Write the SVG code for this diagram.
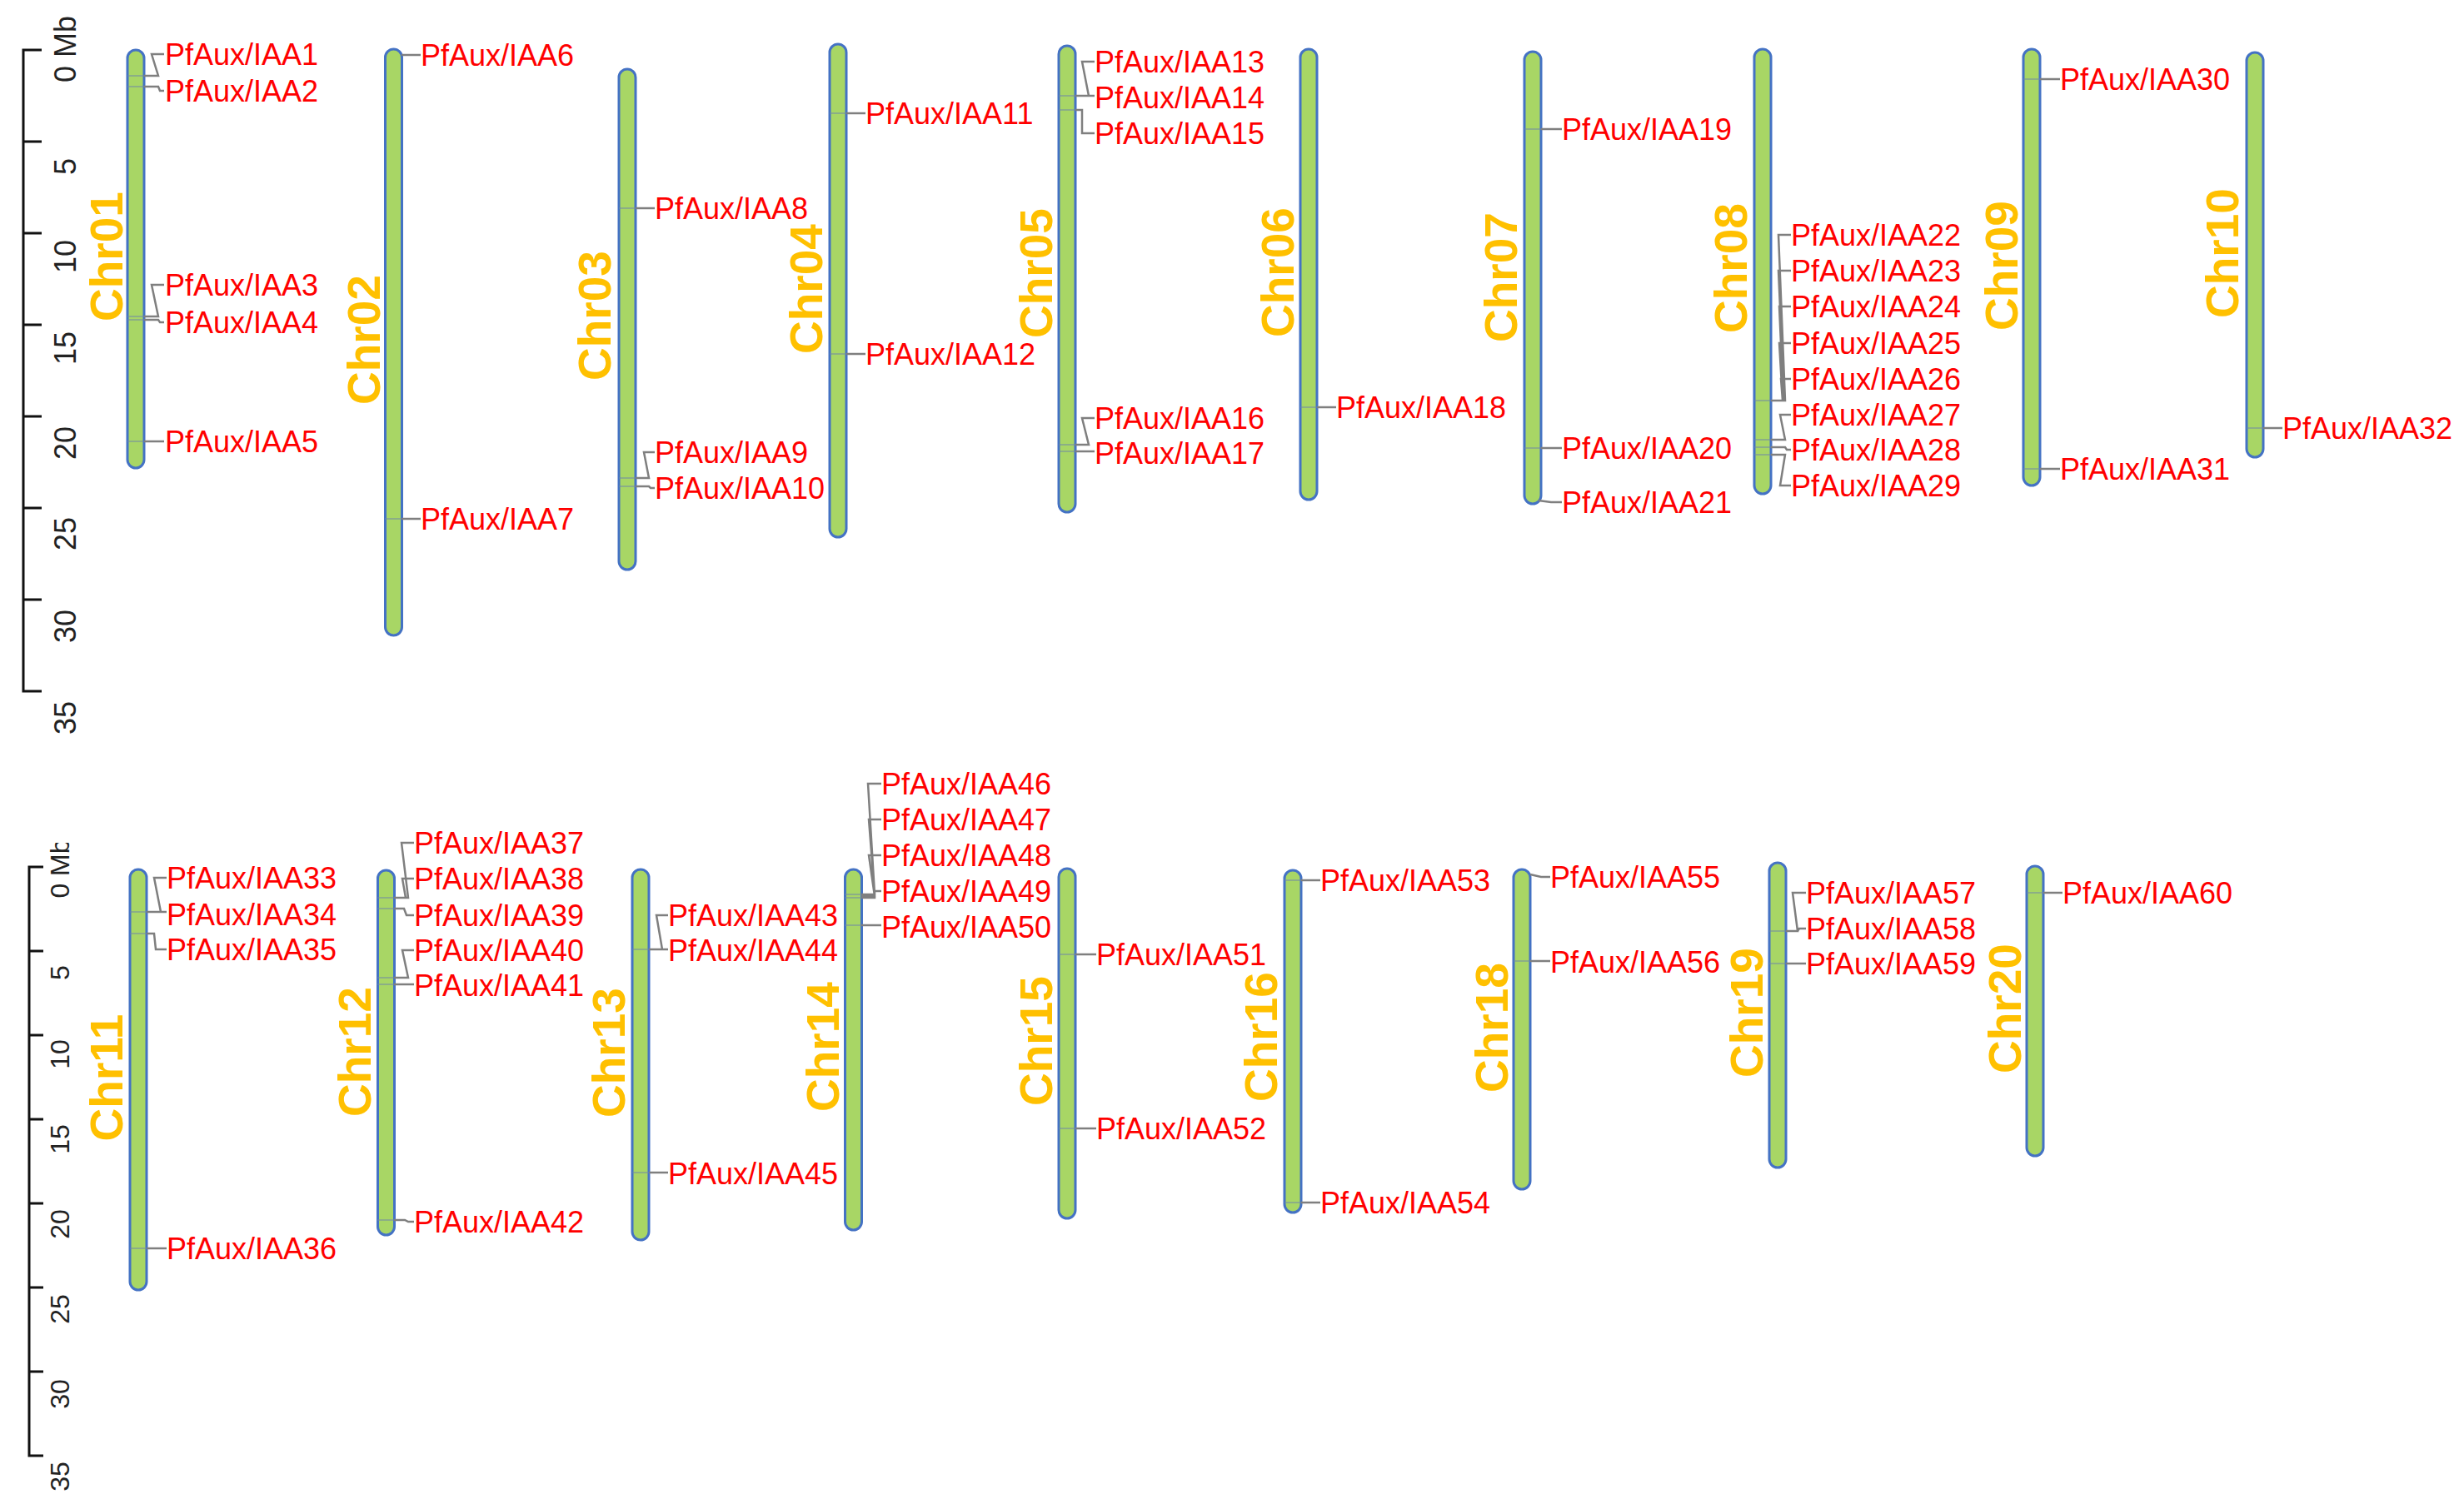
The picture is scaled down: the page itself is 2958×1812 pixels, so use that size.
<svg xmlns="http://www.w3.org/2000/svg" width="2958" height="1812" viewBox="0 0 2958 1812">
<style>
.chr{fill:#a8d665;stroke:#4472c4;stroke-width:3}
.cl{font-family:"Liberation Sans",Arial,sans-serif;font-weight:bold;font-size:55px;fill:#ffc000;text-anchor:middle}
.g{font-family:"Liberation Sans",Arial,sans-serif;font-size:36px;fill:#ff0000}
.sc{font-family:"Liberation Sans",Arial,sans-serif;font-size:36px;fill:#222;text-anchor:middle}
.sc2{font-family:"Liberation Sans",Arial,sans-serif;font-size:32px;fill:#222;text-anchor:middle}
.ax{fill:none;stroke:#111;stroke-width:3}
.cn{fill:none;stroke:#7f7f7f;stroke-width:2.5}
.cr{fill:none;stroke:#6f86a8;stroke-width:1.2}
</style>
<defs>
<clipPath id="clipb"><rect x="0" y="1012" width="200" height="800"/></clipPath>
</defs>
<rect width="2958" height="1812" fill="#ffffff"/>

<g id="scale-top">
<path class="ax" d="M50,60 H28 V830 H50 M28,170 H50 M28,280 H50 M28,390 H50 M28,500 H50 M28,610 H50 M28,720 H50"/>
<text class="sc" transform="translate(91,59) rotate(-90)">0 Mb</text>
<text class="sc" transform="translate(91,200) rotate(-90)">5</text>
<text class="sc" transform="translate(91,308) rotate(-90)">10</text>
<text class="sc" transform="translate(91,418) rotate(-90)">15</text>
<text class="sc" transform="translate(91,532) rotate(-90)">20</text>
<text class="sc" transform="translate(91,641) rotate(-90)">25</text>
<text class="sc" transform="translate(91,752) rotate(-90)">30</text>
<text class="sc" transform="translate(91,862) rotate(-90)">35</text>
</g>

<g id="scale-bottom">
<path class="ax" d="M52,1041 H35 V1748 H52 M35,1142 H52 M35,1243 H52 M35,1344 H52 M35,1445 H52 M35,1546 H52 M35,1647 H52"/>
<g clip-path="url(#clipb)"><text class="sc2" transform="translate(83,1043) rotate(-90)">0 Mb</text></g>
<text class="sc2" transform="translate(83,1168) rotate(-90)">5</text>
<text class="sc2" transform="translate(83,1266) rotate(-90)">10</text>
<text class="sc2" transform="translate(83,1368) rotate(-90)">15</text>
<text class="sc2" transform="translate(83,1470) rotate(-90)">20</text>
<text class="sc2" transform="translate(83,1572) rotate(-90)">25</text>
<text class="sc2" transform="translate(83,1674) rotate(-90)">30</text>
<text class="sc2" transform="translate(83,1773) rotate(-90)">35</text>
</g>

<g id="chr01">
<rect class="chr" x="153" y="60" width="20" height="502" rx="10"/>
<text class="cl" transform="translate(147,308) rotate(-90)">Chr01</text>
<text class="g" x="198" y="78">PfAux/IAA1</text>
<text class="g" x="198" y="122">PfAux/IAA2</text>
<text class="g" x="198" y="355">PfAux/IAA3</text>
<text class="g" x="198" y="400">PfAux/IAA4</text>
<text class="g" x="198" y="543">PfAux/IAA5</text>
</g>
<g id="chr02">
<rect class="chr" x="462.5" y="59" width="20" height="704" rx="10"/>
<text class="cl" transform="translate(456,408) rotate(-90)">Chr02</text>
<text class="g" x="505" y="79">PfAux/IAA6</text>
<text class="g" x="505" y="636">PfAux/IAA7</text>
</g>
<g id="chr03">
<rect class="chr" x="743" y="83" width="20" height="601" rx="10"/>
<text class="cl" transform="translate(733,379) rotate(-90)">Chr03</text>
<text class="g" x="786" y="263">PfAux/IAA8</text>
<text class="g" x="786" y="556">PfAux/IAA9</text>
<text class="g" x="786" y="599">PfAux/IAA10</text>
</g>
<g id="chr04">
<rect class="chr" x="996" y="53" width="20" height="592" rx="10"/>
<text class="cl" transform="translate(987,347) rotate(-90)">Chr04</text>
<text class="g" x="1039" y="149">PfAux/IAA11</text>
<text class="g" x="1039" y="438">PfAux/IAA12</text>
</g>
<g id="chr05">
<rect class="chr" x="1271" y="55" width="20" height="560" rx="10"/>
<text class="cl" transform="translate(1263,328) rotate(-90)">Chr05</text>
<text class="g" x="1314" y="87">PfAux/IAA13</text>
<text class="g" x="1314" y="130">PfAux/IAA14</text>
<text class="g" x="1314" y="173">PfAux/IAA15</text>
<text class="g" x="1314" y="515">PfAux/IAA16</text>
<text class="g" x="1314" y="557">PfAux/IAA17</text>
</g>
<g id="chr06">
<rect class="chr" x="1561" y="59" width="20" height="541" rx="10"/>
<text class="cl" transform="translate(1553,327) rotate(-90)">Chr06</text>
<text class="g" x="1604" y="502">PfAux/IAA18</text>
</g>
<g id="chr07">
<rect class="chr" x="1830" y="62" width="20" height="543" rx="10"/>
<text class="cl" transform="translate(1821,333) rotate(-90)">Chr07</text>
<text class="g" x="1875" y="168">PfAux/IAA19</text>
<text class="g" x="1875" y="551">PfAux/IAA20</text>
<text class="g" x="1875" y="616">PfAux/IAA21</text>
</g>
<g id="chr08">
<rect class="chr" x="2106" y="59" width="20" height="534" rx="10"/>
<text class="cl" transform="translate(2097,322) rotate(-90)">Chr08</text>
<text class="g" x="2150" y="295">PfAux/IAA22</text>
<text class="g" x="2150" y="338">PfAux/IAA23</text>
<text class="g" x="2150" y="381">PfAux/IAA24</text>
<text class="g" x="2150" y="425">PfAux/IAA25</text>
<text class="g" x="2150" y="468">PfAux/IAA26</text>
<text class="g" x="2150" y="511">PfAux/IAA27</text>
<text class="g" x="2150" y="553">PfAux/IAA28</text>
<text class="g" x="2150" y="596">PfAux/IAA29</text>
</g>
<g id="chr09">
<rect class="chr" x="2429" y="59" width="20" height="524" rx="10"/>
<text class="cl" transform="translate(2422,319) rotate(-90)">Chr09</text>
<text class="g" x="2473" y="108">PfAux/IAA30</text>
<text class="g" x="2473" y="576">PfAux/IAA31</text>
</g>
<g id="chr10">
<rect class="chr" x="2697" y="63" width="20" height="486" rx="10"/>
<text class="cl" transform="translate(2687,304) rotate(-90)">Chr10</text>
<text class="g" x="2740" y="527">PfAux/IAA32</text>
</g>

<g id="chr11">
<rect class="chr" x="156" y="1044" width="20" height="505" rx="10"/>
<text class="cl" transform="translate(147,1294) rotate(-90)">Chr11</text>
<text class="g" x="200" y="1067">PfAux/IAA33</text>
<text class="g" x="200" y="1111">PfAux/IAA34</text>
<text class="g" x="200" y="1153">PfAux/IAA35</text>
<text class="g" x="200" y="1512">PfAux/IAA36</text>
</g>
<g id="chr12">
<rect class="chr" x="453.5" y="1045" width="20" height="438" rx="10"/>
<text class="cl" transform="translate(445,1263) rotate(-90)">Chr12</text>
<text class="g" x="497" y="1025">PfAux/IAA37</text>
<text class="g" x="497" y="1068">PfAux/IAA38</text>
<text class="g" x="497" y="1112">PfAux/IAA39</text>
<text class="g" x="497" y="1154">PfAux/IAA40</text>
<text class="g" x="497" y="1196">PfAux/IAA41</text>
<text class="g" x="497" y="1480">PfAux/IAA42</text>
</g>
<g id="chr13">
<rect class="chr" x="759" y="1044" width="20" height="445" rx="10"/>
<text class="cl" transform="translate(750,1264) rotate(-90)">Chr13</text>
<text class="g" x="802" y="1112">PfAux/IAA43</text>
<text class="g" x="802" y="1154">PfAux/IAA44</text>
<text class="g" x="802" y="1422">PfAux/IAA45</text>
</g>
<g id="chr14">
<rect class="chr" x="1014.5" y="1044" width="20" height="433" rx="10"/>
<text class="cl" transform="translate(1007,1257) rotate(-90)">Chr14</text>
<text class="g" x="1058" y="954">PfAux/IAA46</text>
<text class="g" x="1058" y="997">PfAux/IAA47</text>
<text class="g" x="1058" y="1040">PfAux/IAA48</text>
<text class="g" x="1058" y="1083">PfAux/IAA49</text>
<text class="g" x="1058" y="1126">PfAux/IAA50</text>
</g>
<g id="chr15">
<rect class="chr" x="1271" y="1043" width="20" height="420" rx="10"/>
<text class="cl" transform="translate(1263,1250) rotate(-90)">Chr15</text>
<text class="g" x="1316" y="1159">PfAux/IAA51</text>
<text class="g" x="1316" y="1368">PfAux/IAA52</text>
</g>
<g id="chr16">
<rect class="chr" x="1542" y="1045" width="20" height="411" rx="10"/>
<text class="cl" transform="translate(1533,1245) rotate(-90)">Chr16</text>
<text class="g" x="1585" y="1070">PfAux/IAA53</text>
<text class="g" x="1585" y="1457">PfAux/IAA54</text>
</g>
<g id="chr18">
<rect class="chr" x="1817" y="1044" width="20" height="384" rx="10"/>
<text class="cl" transform="translate(1810,1234) rotate(-90)">Chr18</text>
<text class="g" x="1861" y="1066">PfAux/IAA55</text>
<text class="g" x="1861" y="1168">PfAux/IAA56</text>
</g>
<g id="chr19">
<rect class="chr" x="2124" y="1036" width="20" height="366" rx="10"/>
<text class="cl" transform="translate(2116,1216) rotate(-90)">Chr19</text>
<text class="g" x="2168" y="1085">PfAux/IAA57</text>
<text class="g" x="2168" y="1128">PfAux/IAA58</text>
<text class="g" x="2168" y="1170">PfAux/IAA59</text>
</g>
<g id="chr20">
<rect class="chr" x="2433" y="1040" width="20" height="348" rx="10"/>
<text class="cl" transform="translate(2426,1211) rotate(-90)">Chr20</text>
<text class="g" x="2476" y="1085">PfAux/IAA60</text>
</g>

<g id="connectors">
<path class="cr" d="M153,91H173M153,104H173M153,380H173M153,384H173M153,530H173
M462,623H482M743,250H763M743,574H763M743,584H763M996,136H1016M996,425H1016
M1271,115H1291M1271,132H1291M1271,534H1291M1271,542H1291M1561,489H1581
M1830,155H1850M1830,538H1850M2106,481H2126M2106,528H2126M2106,537H2126M2106,546H2126
M2429,95H2449M2429,563H2449M2697,514H2717
M156,1095H176M156,1121H176M156,1499H176M453,1078H473M453,1091H473M453,1174H473M453,1182H473M453,1465H473
M759,1140H779M759,1408H779M1014,1074H1034M1014,1078H1034M1014,1111H1034M1271,1146H1291M1271,1355H1291
M1542,1057H1562M1542,1444H1562M1817,1154H1837M2124,1118H2144M2124,1157H2144M2433,1072H2453"/>
<path class="cn" d="M173,91H190L182,65H197 M173,104H190L192,109H197 M173,380H190L182,342H197 M173,384H190L192,387H197 M173,530H197
M482,66H505 M482,623H505
M763,250H786 M763,574H779L773,543H786 M763,584H779L781,586H786
M1016,136H1039 M1016,425H1039
M1291,115H1307L1299,74H1314 M1291,115H1314 M1291,132H1299V160H1314 M1291,534H1307L1299,502H1314 M1291,542H1314
M1581,489H1604
M1850,155H1875 M1850,538H1875 M1847,601L1862,603H1875
M2126,481H2143L2135,282H2150 M2126,481H2142L2135,325H2150 M2126,481H2141L2136,368H2150 M2126,481H2140L2136,412H2150 M2126,481H2140L2138,455H2150
M2126,528H2143L2137,498H2150 M2126,537H2143L2145,540H2150 M2126,546H2143L2137,583H2150
M2449,95H2473 M2449,563H2473 M2717,514H2740
M176,1095H193L185,1054H200 M176,1095H200 M176,1121H185L187,1140H200 M176,1499H200
M473,1078H490L482,1012H497 M473,1078H487L483,1055H497 M473,1091H485L488,1099H497 M473,1174H490L483,1141H497 M473,1182H497 M473,1465H486L490,1467H497
M779,1140H795L788,1099H802 M779,1140H802 M779,1408H802
M1034,1074H1050L1042,941H1058 M1034,1074H1050L1043,984H1058 M1034,1076H1050L1043,1027H1058 M1034,1078H1050V1070H1058 M1034,1111H1058
M1291,1146H1316 M1291,1355H1316
M1562,1057H1585 M1562,1444H1585
M1837,1050L1850,1053H1861 M1837,1154H1861
M2144,1118H2158L2152,1072H2168 M2144,1118H2158L2160,1115H2168 M2144,1157H2168
M2453,1072H2476"/>
</g>
</svg>
